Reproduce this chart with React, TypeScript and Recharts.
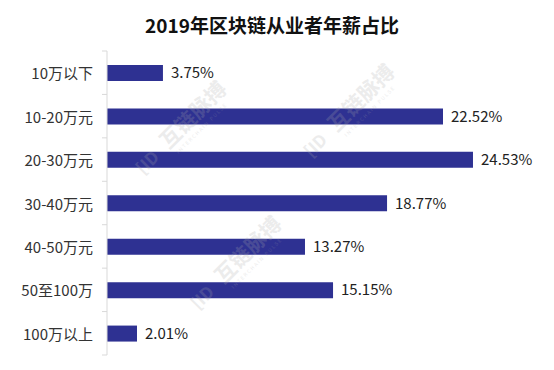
import React from "react";
import { BarChart, Bar, XAxis, YAxis, LabelList } from "recharts";

const CATEGORIES = [
  "10万以下",
  "10-20万元",
  "20-30万元",
  "30-40万元",
  "40-50万元",
  "50至100万",
  "100万以上",
];
const SHARES = [3.75, 22.52, 24.53, 18.77, 13.27, 15.15, 2.01];

const TITLE = "2019年区块链从业者年薪占比";
const WATERMARK = "互链脉搏";

const FONT = '"Noto Sans CJK SC", "Noto Sans", sans-serif';
const TOP = 51;
const BOTTOM = 15;
const HEIGHT = 370;
const STEP = (HEIGHT - TOP - BOTTOM) / CATEGORIES.length;

const data = CATEGORIES.map((name, i) => ({ name, share: SHARES[i] }));

const CategoryTick = (props: any) => {
  const { x, y, payload, index } = props;
  const axisX = x + 14;
  return (
    <g>
      <text
        x={x}
        y={y}
        textAnchor="end"
        dominantBaseline="central"
        fontSize={15}
        fill="#333"
        fontFamily={FONT}
      >
        {payload.value}
      </text>
      <line x1={axisX - 5} x2={axisX} y1={y - STEP / 2} y2={y - STEP / 2} stroke="#d9d9d9" />
      {index === CATEGORIES.length - 1 && (
        <line x1={axisX - 5} x2={axisX} y1={y + STEP / 2} y2={y + STEP / 2} stroke="#d9d9d9" />
      )}
    </g>
  );
};

// faint diagonal watermark, drawn over the plot
const Watermark = ({ cx, cy }: { cx: number; cy: number }) => (
  <g transform={`translate(${cx},${cy}) rotate(-45)`} opacity={0.22}>
    <text x={-58} y={6} fontSize={17} fontWeight="bold" fill="#aaa" fontFamily={FONT}>
      [ID
    </text>
    <text x={-22} y={6} fontSize={21} fontWeight="bold" fill="#aaa" fontFamily={FONT}>
      {WATERMARK}
    </text>
    <text x={-18} y={16} fontSize={5} fill="#aaa" fontFamily={FONT} letterSpacing={1.5}>
      INTERCHAIN PULSE
    </text>
  </g>
);

export default function App() {
  return (
    <div style={{ position: "absolute", left: 0, top: 0, width: 554, height: 370, background: "#fff" }}>
      <div
        style={{
          position: "absolute",
          top: 13,
          left: 0,
          width: 544,
          textAlign: "center",
          fontFamily: FONT,
          fontSize: 19,
          fontWeight: "bold",
          lineHeight: "24px",
          color: "#111",
        }}
      >
        {TITLE}
      </div>
      <BarChart
        width={554}
        height={HEIGHT}
        data={data}
        layout="vertical"
        margin={{ top: TOP, right: 74, bottom: BOTTOM, left: 0 }}
      >
        <XAxis type="number" domain={[0, 25]} hide />
        <YAxis
          type="category"
          dataKey="name"
          width={107}
          axisLine={{ stroke: "#d9d9d9" }}
          tickLine={false}
          tickSize={6}
          tickMargin={8}
          tick={<CategoryTick />}
          interval={0}
        />
        <Bar dataKey="share" fill="#2e3192" barSize={16} isAnimationActive={false}>
          <LabelList
            dataKey="share"
            position="right"
            offset={8}
            formatter={(v: any) => `${Number(v).toFixed(2)}%`}
            style={{ fontSize: 15, fill: "#222", fontFamily: FONT }}
          />
        </Bar>
      </BarChart>
      <svg
        width={554}
        height={370}
        style={{ position: "absolute", left: 0, top: 0, pointerEvents: "none" }}
      >
        <Watermark cx={180} cy={130} />
        <Watermark cx={348} cy={113} />
        <Watermark cx={235} cy={265} />
      </svg>
    </div>
  );
}
